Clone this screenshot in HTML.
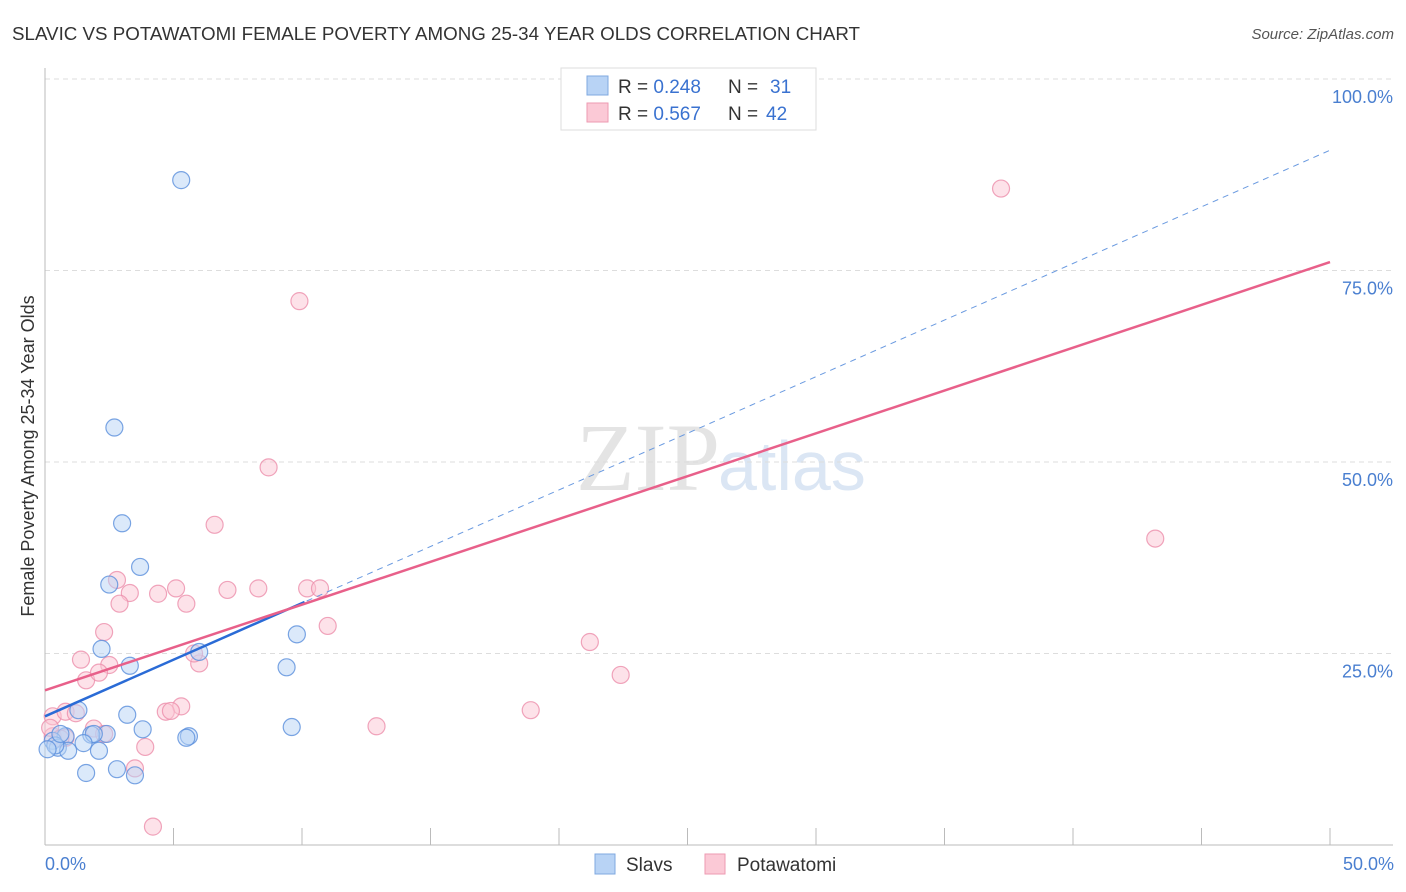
<!DOCTYPE html>
<html><head><meta charset="utf-8"><style>
body{margin:0;background:#fff;font-family:"Liberation Sans",sans-serif}
svg{display:block}
</style></head><body>
<svg id="c" width="1406" height="892">
<text x="12" y="40" font-size="18" fill="#333" textLength="848" lengthAdjust="spacingAndGlyphs">SLAVIC VS POTAWATOMI FEMALE POVERTY AMONG 25-34 YEAR OLDS CORRELATION CHART</text>
<text x="1394" y="39" font-size="15" fill="#555" font-style="italic" text-anchor="end">Source: ZipAtlas.com</text>
<text x="720" y="490" font-size="96" fill="#e4e4e4" text-anchor="end" font-family="Liberation Serif">ZIP</text>
<text x="718" y="490" font-size="70" fill="#dbe6f4">atlas</text>
<g id="grid"></g>
<g id="axes"></g>
<g id="pts"></g>
<g id="lines"></g>
<text transform="translate(34,456) rotate(-90)" font-size="18" fill="#333" text-anchor="middle">Female Poverty Among 25-34 Year Olds</text>
<text x="45" y="870" font-size="18" fill="#4a7fd0">0.0%</text>
<text x="1394" y="870" font-size="18" fill="#4a7fd0" text-anchor="end">50.0%</text>
<g>
<rect x="561" y="68" width="255" height="62" fill="#fff" stroke="#ddd"/>
<rect x="587" y="76" width="21" height="19" fill="#b8d3f5" stroke="#7fa8e0"/>
<rect x="587" y="103" width="21" height="19" fill="#fbc9d6" stroke="#ee9ab2"/>
<text x="618" y="93" font-size="19" fill="#333">R = <tspan fill="#3a72d0">0.248</tspan><tspan x="728">N = </tspan><tspan x="770" fill="#3a72d0">31</tspan></text>
<text x="618" y="120" font-size="19" fill="#333">R = <tspan fill="#3a72d0">0.567</tspan><tspan x="728">N = </tspan><tspan x="766" fill="#3a72d0">42</tspan></text>
</g>
<g>
<rect x="595" y="854" width="20" height="20" fill="#b8d3f5" stroke="#7fa8e0"/>
<text x="626" y="871" font-size="19" fill="#333">Slavs</text>
<rect x="705" y="854" width="20" height="20" fill="#fbc9d6" stroke="#ee9ab2"/>
<text x="737" y="871" font-size="19" fill="#333">Potawatomi</text>
</g>
</svg>
<script>
const yTicks=[25,50,75,100];
const yTickLabels=["25.0%","50.0%","75.0%","100.0%"];
const xTicks=[0,5,10,15,20,25,30,35,40,45,50];
const slavsX=[5.3,2.7,3.0,3.7,2.5,2.2,3.3,6.0,9.8,9.4,1.3,3.2,9.6,3.8,2.4,1.8,0.8,5.6,5.5,0.3,0.5,0.9,2.1,0.4,0.1,2.8,1.6,3.5,1.9,0.6,1.5];
const slavsY=[86.8,54.5,42,36.3,34,25.6,23.4,25.2,27.5,23.2,17.6,17,15.4,15.1,14.5,14.4,14.2,14.2,14,13.6,12.7,12.3,12.3,13,12.5,9.9,9.4,9.1,14.5,14.5,13.3];
const potX=[37.2,9.9,8.7,6.6,43.2,2.8,5.1,7.1,8.3,10.2,10.7,4.4,3.3,5.5,2.9,11,2.3,21.2,1.4,2.5,6,5.8,22.4,1.6,2.1,5.3,4.7,4.9,18.9,12.9,0.3,0.8,1.9,0.3,0.8,3.9,3.5,4.2,1.2,0.2,0.6];
const potY=[85.7,71,49.3,41.8,40,34.6,33.5,33.3,33.5,33.5,33.5,32.8,32.9,31.5,31.5,28.6,27.8,26.5,24.2,23.5,23.7,25,22.2,21.5,22.5,18.1,17.4,17.5,17.6,15.5,16.8,17.4,15.2,14.2,14,12.8,10,2.4,17.2,15.3,13.9];
const potX2=[2.3];const potY2=[14.5];
const slavsTrend=[16.8,90.7];
const potTrend=[20.2,76.1];
const X=v=>45+v*25.7, Y=v=>845-v*7.66;
const NS="http://www.w3.org/2000/svg";
function mk(p,t,a){const e=document.createElementNS(NS,t);for(const k in a)e.setAttribute(k,a[k]);document.getElementById(p).appendChild(e);return e;}
yTicks.forEach((t,i)=>{
 const l=mk('grid','line',{x1:45,x2:1393,y1:Y(t),y2:Y(t),stroke:'#ddd','stroke-dasharray':'5,4'});
 
 
 const tx=mk('grid','text',{x:1393,y:Y(t)+24,'font-size':18,fill:'#4a7fd0','text-anchor':'end'});
 tx.textContent=yTickLabels[i];
 
 
});
let a=mk('axes','line',{x1:45,x2:45,y1:68,y2:845,stroke:'#bbb'});


a=mk('axes','line',{x1:45,x2:1393,y1:845,y2:845,stroke:'#bbb'});


xTicks.forEach(t=>{const l=mk('axes','line',{x1:X(t),x2:X(t),y1:828,y2:845,stroke:'#bbb'});
 
 });
function pts(xs,ys,f,s,n){xs.forEach((x,i)=>{const c=mk('pts','circle',{cx:X(x),cy:Y(ys[i]),r:8.5,fill:f,'fill-opacity':0.5,stroke:s,'stroke-opacity':0.8,'stroke-width':1.2});
 
 });}
pts(potX.concat(potX2),potY.concat(potY2),'#fbc6d4','#ec8fab','potawatomi-point');
pts(slavsX,slavsY,'#b8d3f5','#5a8fdc','slavs-point');
let l=mk('lines','line',{x1:X(0),y1:Y(slavsTrend[0]),x2:X(50),y2:Y(slavsTrend[1]),stroke:'#6a9ae0','stroke-width':1,'stroke-dasharray':'6,5'});


const xe=10.1;
l=mk('lines','line',{x1:X(0),y1:Y(slavsTrend[0]),x2:X(xe),y2:Y(slavsTrend[0]+(slavsTrend[1]-slavsTrend[0])*xe/50),stroke:'#2a6bd6','stroke-width':2.5});


l=mk('lines','line',{x1:X(0),y1:Y(potTrend[0]),x2:X(50),y2:Y(potTrend[1]),stroke:'#e8608a','stroke-width':2.5});


</script>
</body></html>
